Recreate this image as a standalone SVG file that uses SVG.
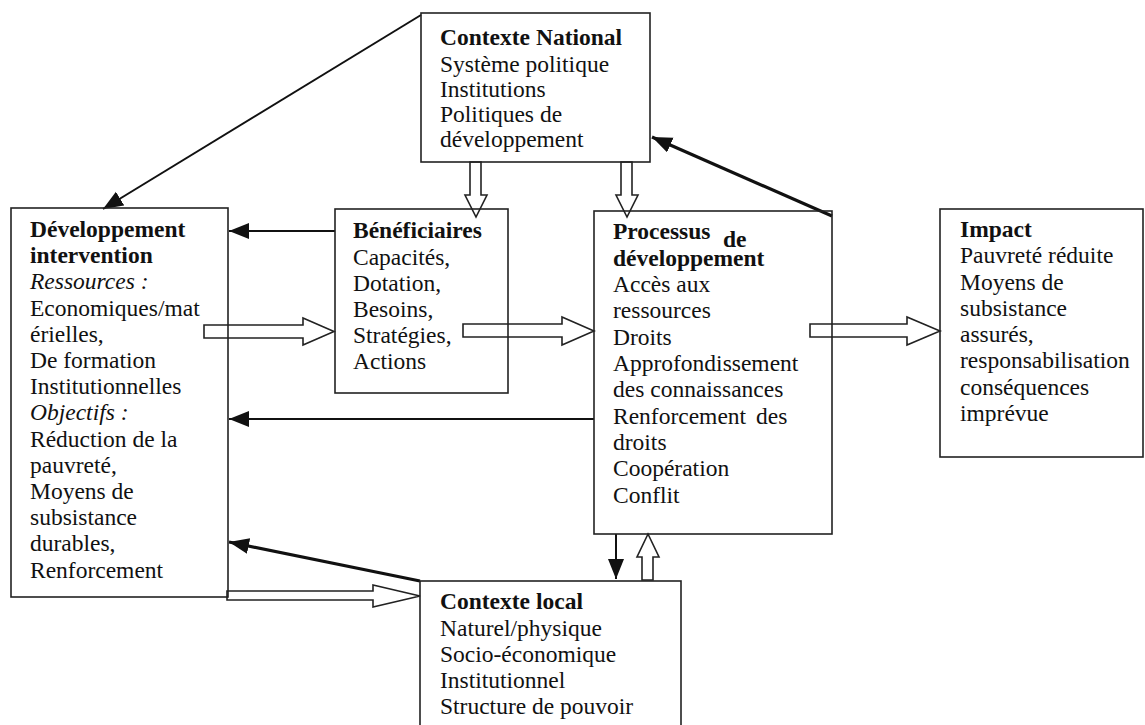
<svg xmlns="http://www.w3.org/2000/svg" width="1145" height="725" viewBox="0 0 1145 725">
<style>
.t{font-family:"Liberation Serif","Times New Roman",serif;font-size:23.5px;fill:#111}
.b{font-weight:bold}
.i{font-style:italic}
.box{fill:none;stroke:#222;stroke-width:1.6}
.ln{fill:none;stroke:#111;stroke-width:2}
.thk{fill:none;stroke:#111;stroke-width:3.2}
.open{fill:#fff;stroke:#222;stroke-width:1.6;stroke-linejoin:miter}
</style>
<defs>
<marker id="ah" markerUnits="userSpaceOnUse" markerWidth="22" markerHeight="18" refX="20" refY="8" orient="auto">
<path d="M0,0 L20,8 L0,16 z" fill="#111"/>
</marker>
</defs>
<rect width="1145" height="725" fill="#fff"/>
<g id="connectors">
<line class="ln" x1="421" y1="15" x2="103" y2="209" marker-end="url(#ah)"/>
<line class="ln" x1="335" y1="231" x2="229" y2="231" marker-end="url(#ah)"/>
<line class="ln" x1="594" y1="419" x2="229" y2="419" marker-end="url(#ah)"/>
<line class="thk" x1="420" y1="581" x2="229" y2="542" marker-end="url(#ah)"/>
<line class="thk" x1="832" y1="216" x2="652" y2="137" marker-end="url(#ah)"/>
<line class="ln" x1="616" y1="534" x2="616" y2="579" marker-end="url(#ah)"/>
<polygon class="open" points="204,325 303,325 303,318 334,331.5 303,345 303,338 204,338"/>
<polygon class="open" points="463,324 562,324 562,317 594,331 562,345 562,337 463,337"/>
<polygon class="open" points="810,324 907,324 907,317 940,331 907,345 907,337 810,337"/>
<polygon class="open" points="227,591 373,591 373,585 420,596 373,607 373,600 227,600"/>
<polygon class="open" points="470,162 481,162 481,195 487,195 476,217 465,195 470,195"/>
<polygon class="open" points="621,162 632,162 632,195 638,195 627,217 616,195 621,195"/>
<polygon class="open" points="642,580 653,580 653,557 659,557 648,534 637,557 642,557"/>
</g>
<g id="contexte-national">
<rect class="box" x="421" y="13" width="229" height="149"/>
<text class="t b" x="440" y="45">Contexte National</text>
<text class="t" x="440" y="72">Système politique</text>
<text class="t" x="440" y="97">Institutions</text>
<text class="t" x="440" y="122">Politiques de</text>
<text class="t" x="440" y="147">développement</text>
</g>
<g id="developpement-intervention">
<rect class="box" x="11" y="208" width="217" height="389"/>
<text class="t b" x="30" y="237">Développement</text>
<text class="t b" x="30" y="263">intervention</text>
<text class="t i" x="30" y="289">Ressources :</text>
<text class="t" x="30" y="315.5">Economiques/mat</text>
<text class="t" x="30" y="341.5">érielles,</text>
<text class="t" x="30" y="368">De formation</text>
<text class="t" x="30" y="394">Institutionnelles</text>
<text class="t i" x="30" y="420">Objectifs :</text>
<text class="t" x="30" y="446.5">Réduction de la</text>
<text class="t" x="30" y="472.5">pauvreté,</text>
<text class="t" x="30" y="499">Moyens de</text>
<text class="t" x="30" y="525">subsistance</text>
<text class="t" x="30" y="551">durables,</text>
<text class="t" x="30" y="577.5">Renforcement</text>
</g>
<g id="beneficiaires">
<rect class="box" x="335" y="209" width="173" height="184"/>
<text class="t b" x="353" y="238">Bénéficiaires</text>
<text class="t" x="353" y="265">Capacités,</text>
<text class="t" x="353" y="291">Dotation,</text>
<text class="t" x="353" y="317">Besoins,</text>
<text class="t" x="353" y="343">Stratégies,</text>
<text class="t" x="353" y="369">Actions</text>
</g>
<g id="processus">
<rect class="box" x="594" y="211" width="238" height="323"/>
<text class="t b" x="613" y="239">Processus</text>
<text class="t b" x="723" y="247">de</text>
<text class="t b" x="613" y="266">développement</text>
<text class="t" x="613" y="292">Accès  aux</text>
<text class="t" x="613" y="318">ressources</text>
<text class="t" x="613" y="345">Droits</text>
<text class="t" x="613" y="371">Approfondissement</text>
<text class="t" x="613" y="397">des connaissances</text>
<text class="t" x="613" y="424" word-spacing="4">Renforcement des</text>
<text class="t" x="613" y="450">droits</text>
<text class="t" x="613" y="476">Coopération</text>
<text class="t" x="613" y="503">Conflit</text>
</g>
<g id="impact">
<rect class="box" x="940" y="209" width="203" height="248"/>
<text class="t b" x="960" y="237">Impact</text>
<text class="t" x="960" y="263">Pauvreté réduite</text>
<text class="t" x="960" y="290">Moyens de</text>
<text class="t" x="960" y="316">subsistance</text>
<text class="t" x="960" y="342">assurés,</text>
<text class="t" x="960" y="368">responsabilisation</text>
<text class="t" x="960" y="395">conséquences</text>
<text class="t" x="960" y="421">imprévue</text>
</g>
<g id="contexte-local">
<rect class="box" x="420" y="581" width="261" height="160"/>
<text class="t b" x="440" y="609">Contexte local</text>
<text class="t" x="440" y="636">Naturel/physique</text>
<text class="t" x="440" y="662">Socio-économique</text>
<text class="t" x="440" y="688">Institutionnel</text>
<text class="t" x="440" y="714">Structure de pouvoir</text>
</g>
</svg>
